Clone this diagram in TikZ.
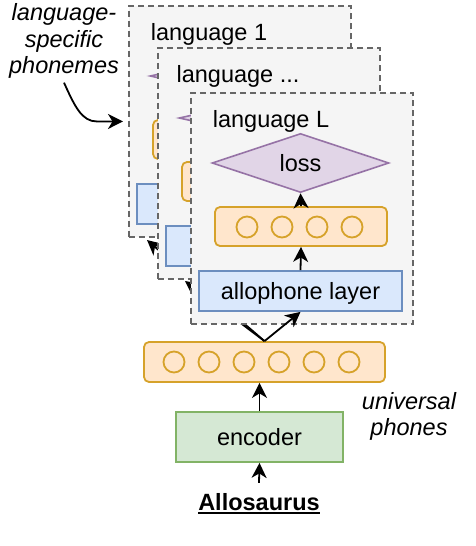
\documentclass[tikz,border=0pt]{standalone}
\usepackage{fontspec}
\setmainfont{Liberation Sans}
\usetikzlibrary{shapes.geometric,arrows.meta,calc}
\definecolor{orfill}{HTML}{FFE6CC}
\definecolor{ordraw}{HTML}{D6A22A}
\definecolor{blfill}{HTML}{DAE8FC}
\definecolor{bldraw}{HTML}{6C8EBF}
\definecolor{grfill}{HTML}{D5E8D4}
\definecolor{grdraw}{HTML}{82B366}
\definecolor{pufill}{HTML}{E1D5E7}
\definecolor{pudraw}{HTML}{9673A6}
\definecolor{pfill}{HTML}{F5F5F5}
\definecolor{pgray}{HTML}{666666}
\newsavebox{\allobox}
\newcommand\ulinethick[1]{\sbox{\allobox}{#1}\usebox{\allobox}\llap{\rule[-3.6pt]{\wd\allobox}{1.8pt}}}
\tikzset{
  lbl/.style={font=\fontsize{23.5}{27}\selectfont, inner sep=0pt},
  ilbl/.style={font=\fontsize{23.5}{26.5}\selectfont\itshape, inner sep=0pt, align=center},
  panelbox/.style={draw=pgray, fill=pfill, line width=1.8pt, dash pattern=on 6pt off 4pt,
    minimum width=222pt, minimum height=231pt, anchor=north west, inner sep=0pt},
  orbox/.style={draw=ordraw, fill=orfill, line width=1.8pt, rounded corners=5pt, inner sep=0pt},
  unit/.style={draw=ordraw, line width=1.8pt, circle, minimum size=21pt, inner sep=0pt},
  blbox/.style={draw=bldraw, fill=blfill, line width=1.8pt, inner sep=0pt, lbl,
    minimum width=203pt, minimum height=40pt, text height=17pt, text depth=0pt},
  grbox/.style={draw=grdraw, fill=grfill, line width=1.8pt, inner sep=0pt, lbl,
    minimum width=167pt, minimum height=50pt, text height=17pt, text depth=0pt},
  lossbox/.style={diamond, draw=pudraw, fill=pufill, line width=1.6pt, inner sep=0pt, lbl,
    minimum width=177pt, minimum height=40pt},
  arr/.style={line width=1.8pt, -{Stealth[length=15pt,width=15pt,inset=4.5pt]}},
}
% #1 dx, #2 dy, #3 title, #4 prefix, #5 loss text, #6 allophone text
\newcommand\langpanel[6]{%
\begin{scope}[shift={(#1,#2)}, name prefix=#4-]
  \node[panelbox] (panel) at (190,92) {};
  \node[lbl, anchor=base] (title) at (271,127) {#3};
  \node[lossbox] (loss) at (300.5,163) {#5};
  \node[orbox, minimum width=172pt, minimum height=39pt] (ob) at (301,226.5) {};
  \node[unit] (c1) at (247,227) {};
  \node[unit] (c2) at (282,227) {};
  \node[unit] (c3) at (317,227) {};
  \node[unit] (c4) at (352,227) {};
  \node[blbox] (allo) at (300.5,291) {#6};
  \draw[arr] (allo.north) -- (ob.south);
  \draw[arr] (ob.north) -- (loss.south);
\end{scope}}
\begin{document}
\begin{tikzpicture}[x=1pt,y=-1pt]
\useasboundingbox (0,0) rectangle (476,546);
% lower part
\node[orbox, minimum width=241pt, minimum height=40pt] (uni) at (264.5,362) {};
\foreach \i/\xx in {1/174,2/209,3/244,4/279,5/314,6/349}{
  \node[unit] (u\i) at (\xx,362) {};
}
\node[grbox] (enc) at (259.5,437) {encoder};
\node[lbl, anchor=base, font=\fontsize{23.5}{27}\selectfont\bfseries] (allosaurus) at (259,510)
  {\ulinethick{Allosaurus}};
\draw[arr] (enc.north) -- (enc.north |- uni.south);
\draw[arr] ([yshift=10pt]allosaurus.north) -- (enc.south);
\node[ilbl] (univ) at (409,416.5) {universal\\phones};
\node[ilbl] (lsp) at (64,41) {language-\\specific\\phonemes};
% panels
\coordinate (tone) at (147,240);
\coordinate (tmid) at (185,281);
\langpanel{-62}{-87}{language 1}{pa}{}{}
\draw[arr] (uni.north) -- (tone);
\langpanel{-33}{-45}{language ...}{pb}{}{}
\draw[arr] (uni.north) -- (tmid);
\langpanel{0}{0}{language L}{pc}{loss}{allophone layer}
\draw[arr] (uni.north) -- (pc-allo.south);
% curved label arrow
\coordinate (bend) at (97,121.5);
\draw[line width=1.8pt] ([yshift=-4pt]lsp.south) .. controls (75,107) and (82,121.5) .. (bend);
\draw[arr, shorten >=5pt] (bend) -- (pa-panel.west);
\end{tikzpicture}
\end{document}
